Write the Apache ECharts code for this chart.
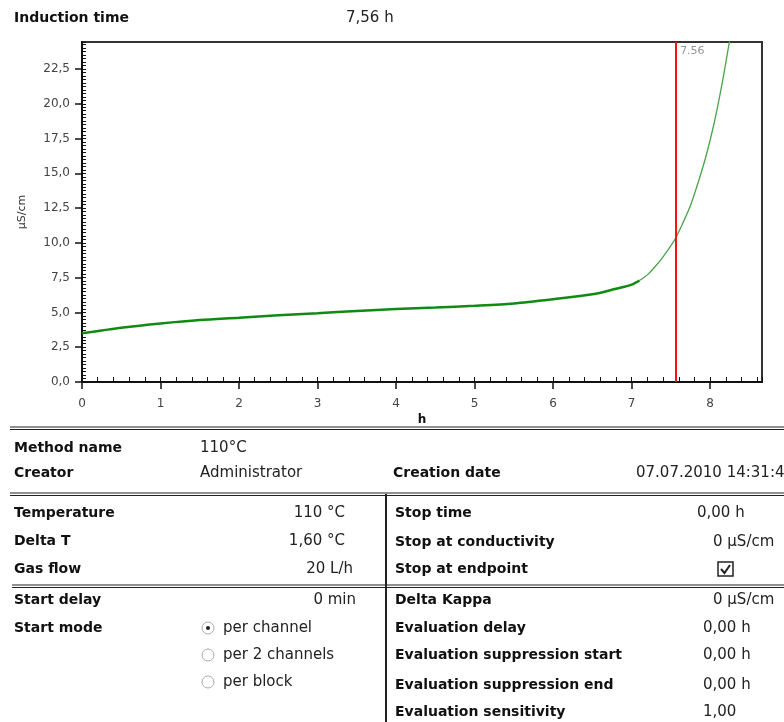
<!DOCTYPE html>
<html><head><meta charset="utf-8">
<script src="https://cdn.jsdelivr.net/npm/echarts@6/dist/echarts.min.js"></script>
<style>html,body{margin:0;padding:0;background:#fff}#c{width:784px;height:722px}</style>
</head><body><div id="c"></div>
<script>
// ---- data ----
const hours = [0, 0.25, 0.5, 1, 1.5, 2, 2.5, 3, 3.5, 4, 4.5, 5, 5.5, 6, 6.5, 6.8, 7.0, 7.1, 7.2, 7.3, 7.4, 7.5, 7.56, 7.65, 7.75, 7.85, 7.95, 8.05, 8.15, 8.25, 8.3];
const conductivity = [3.5, 3.7, 3.9, 4.2, 4.45, 4.62, 4.8, 4.95, 5.1, 5.25, 5.35, 5.48, 5.65, 5.95, 6.3, 6.7, 7.0, 7.3, 7.7, 8.3, 9.0, 9.8, 10.35, 11.4, 12.7, 14.4, 16.3, 18.6, 21.4, 24.6, 26.0];
const inductionTime = 7.56;
const steepStart = 7.1;
const xMax = 8.66, yMax = 24.44;
const title = 'Induction time';
const titleValue = '7,56 h';
const methodRows = [['Method name', '110°C'], ['Creator', 'Administrator']];
const creation = ['Creation date', '07.07.2010 14:31:42'];
const leftParams = [['Temperature', '110 °C'], ['Delta T', '1,60 °C'], ['Gas flow', '20 L/h'], ['Start delay', '0 min'], ['Start mode', '']];
const startModes = ['per channel', 'per 2 channels', 'per block'];
const selectedMode = 0;
const rightParams = [['Stop time', '0,00 h'], ['Stop at conductivity', '0 µS/cm'], ['Stop at endpoint', 'CHECK'], ['Delta Kappa', '0 µS/cm'], ['Evaluation delay', '0,00 h'], ['Evaluation suppression start', '0,00 h'], ['Evaluation suppression end', '0,00 h'], ['Evaluation sensitivity', '1,00']];

// ---- build ----
const pts = hours.map((h, i) => [h, conductivity[i]]);
const flat = pts.filter(p => p[0] <= steepStart);
const steep = pts.filter(p => p[0] >= steepStart);

const FB = 'bold 14px "DejaVu Sans"';
const FR = '15px "DejaVu Sans"';
const g = [];
function txt(x, y, t, font, align, color) {
  g.push({type: 'text', x: x, y: y, style: {text: t, font: font, fill: color || '#111', align: align || 'left', verticalAlign: 'middle'}, z: 10});
}
function hline(x1, x2, y, w) {
  g.push({type: 'line', shape: {x1: x1, y1: y, x2: x2, y2: y}, style: {stroke: '#222', lineWidth: w || 1}, z: 10});
}
function vline(x, y1, y2, w) {
  g.push({type: 'line', shape: {x1: x, y1: y1, x2: x, y2: y2}, style: {stroke: '#222', lineWidth: w || 1}, z: 10});
}
txt(14, 18, title, FB);
txt(346, 18, titleValue, FR, 'left', '#222');
// top table
hline(10, 784, 427, 1); hline(10, 784, 429.5, 1);
const mY = [448, 473];
methodRows.forEach((r, i) => { txt(14, mY[i], r[0], FB); txt(200, mY[i], r[1], FR, 'left', '#222'); });
txt(393, 473, creation[0], FB);
txt(636, 473, creation[1], FR, 'left', '#222');
hline(10, 784, 493, 1); hline(10, 784, 495.5, 1);
vline(386, 494, 722, 2);
hline(12, 784, 585, 1); hline(12, 784, 587.5, 1);
const lY = [513, 541, 569, 600, 628];
const lRight = [345, 345, 353, 356, 356];
leftParams.forEach((r, i) => { txt(14, lY[i], r[0], FB); if (r[1]) txt(lRight[i], lY[i], r[1], FR, 'right', '#222'); });
const mYs = [628, 655, 682];
startModes.forEach((m, i) => {
  g.push({type: 'circle', shape: {cx: 208, cy: mYs[i], r: 6}, style: {fill: '#fff', stroke: '#aaa', lineWidth: 1}, z: 10});
  if (i === selectedMode) g.push({type: 'circle', shape: {cx: 208, cy: mYs[i], r: 2}, style: {fill: '#222'}, z: 11});
  txt(223, mYs[i], m, FR, 'left', '#222');
});
const rY = [513, 542, 569, 600, 628, 655, 685, 712];
rightParams.forEach((r, i) => {
  txt(395, rY[i], r[0], FB);
  if (r[1] === 'CHECK') {
    g.push({type: 'rect', shape: {x: 718, y: rY[i] - 7, width: 15, height: 14}, style: {fill: '#fff', stroke: '#222', lineWidth: 1.5}, z: 10});
    g.push({type: 'polyline', shape: {points: [[721, rY[i]], [724.5, rY[i] + 4], [730, rY[i] - 4]]}, style: {stroke: '#222', lineWidth: 2, fill: null}, z: 11});
  } else {
    const x = r[1].indexOf('µS') >= 0 ? 713 : (i === 0 ? 697 : 703);
    txt(x, rY[i], r[1], FR, 'left', '#222');
  }
});

const chart = echarts.init(document.getElementById('c'), null, {renderer: 'canvas'});
const fmtY = v => v.toFixed(1).replace('.', ',');
const tickStyle = {color: '#111', width: 1};
chart.setOption({
  animation: false,
  backgroundColor: '#fff',
  grid: {left: 82, right: 22, top: 42, bottom: 340, show: true, borderColor: '#333', borderWidth: 2},
  xAxis: [{
    type: 'value', min: 0, max: xMax, interval: 1, position: 'bottom',
    name: 'h', nameLocation: 'middle', nameGap: 32,
    nameTextStyle: {fontFamily: 'DejaVu Sans', fontWeight: 'bold', fontSize: 12, color: '#111'},
    axisLine: {show: true, onZero: false, lineStyle: {color: '#111', width: 2}},
    axisTick: {show: true, inside: false, length: 7, lineStyle: {color: '#111', width: 1.5}},
    minorTick: {show: false},
    splitLine: {show: false},
    axisLabel: {margin: 16, fontFamily: 'DejaVu Sans', fontSize: 12, color: '#444', showMaxLabel: false}
  }, {
    type: 'value', min: 0, max: xMax, interval: 1, position: 'bottom', offset: 0,
    axisLine: {show: false, onZero: false},
    axisTick: {show: true, inside: true, length: 5, lineStyle: tickStyle},
    minorTick: {show: true, splitNumber: 5, length: 5, lineStyle: tickStyle},
    splitLine: {show: false}, axisLabel: {show: false}
  }],
  yAxis: [{
    type: 'value', min: 0, max: yMax, interval: 2.5, position: 'left',
    name: 'µS/cm', nameLocation: 'middle', nameGap: 54,
    nameTextStyle: {fontFamily: 'DejaVu Sans', fontSize: 11, color: '#333'},
    axisLine: {show: true, onZero: false, lineStyle: {color: '#111', width: 2}},
    axisTick: {show: true, inside: false, length: 7, lineStyle: {color: '#111', width: 1.5}},
    minorTick: {show: false},
    splitLine: {show: false},
    axisLabel: {margin: 12, fontFamily: 'DejaVu Sans', fontSize: 12, color: '#444', formatter: fmtY, showMaxLabel: false}
  }, {
    type: 'value', min: 0, max: yMax, interval: 2.5, position: 'left', offset: 0,
    axisLine: {show: false, onZero: false},
    axisTick: {show: true, inside: true, length: 4, lineStyle: tickStyle},
    minorTick: {show: true, splitNumber: 10, length: 4, lineStyle: tickStyle},
    splitLine: {show: false}, axisLabel: {show: false}
  }],
  series: [
    {type: 'line', data: flat, showSymbol: false, smooth: 0.3, lineStyle: {color: '#118a11', width: 2.5}, z: 3,
     markLine: {silent: true, symbol: 'none', label: {show: false}, lineStyle: {color: '#ff1010', width: 2, type: 'solid'}, data: [{xAxis: inductionTime}]}},
    {type: 'line', data: steep, showSymbol: false, smooth: 0.3, lineStyle: {color: '#4aa34a', width: 1.3}, z: 3},
    {type: 'scatter', data: [[inductionTime, yMax]], symbolSize: 1, itemStyle: {color: 'rgba(0,0,0,0)'}, z: 4,
     label: {show: true, position: [5, 4], align: 'left', verticalAlign: 'top', formatter: String(inductionTime), fontFamily: 'DejaVu Sans', fontSize: 11, color: '#777'}}
  ],
  graphic: g
});
</script></body></html>
